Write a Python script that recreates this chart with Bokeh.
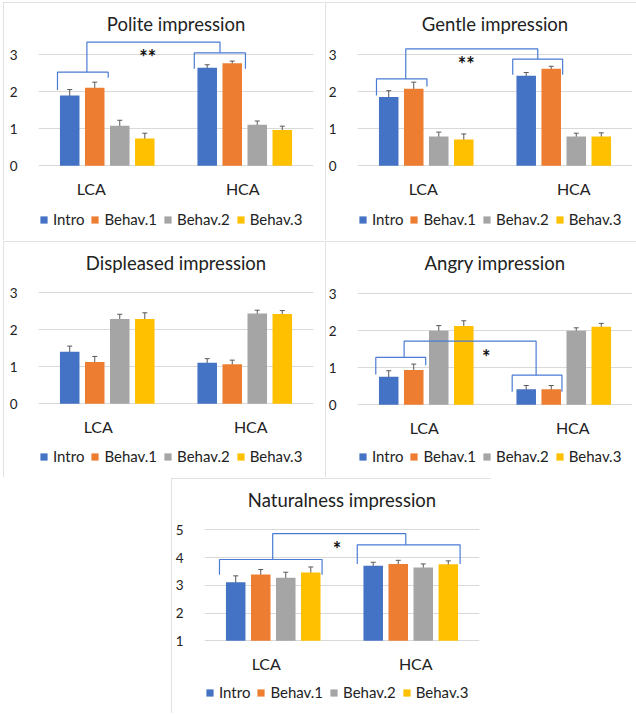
from bokeh.plotting import figure
from bokeh.models import (ColumnDataSource, Whisker, TeeHead, Legend, LegendItem,
                          FixedTicker, Spacer, LabelSet)
from bokeh.transform import dodge
from bokeh.layouts import column, row
from bokeh.core.properties import value
from bokeh.embed import file_html
from bokeh.resources import INLINE

# ---------------- data ----------------
categories = ["LCA", "HCA"]
series = ["Intro", "Behav.1", "Behav.2", "Behav.3"]
colors = ["#4472C4", "#ED7D31", "#A5A5A5", "#FFC000"]

# means[series][category], errs[series][category]
polite_means = [[1.90, 2.65], [2.11, 2.77], [1.08, 1.11], [0.74, 0.97]]
polite_errs = [[0.16, 0.08], [0.15, 0.06], [0.15, 0.10], [0.14, 0.10]]

gentle_means = [[1.86, 2.43], [2.08, 2.62], [0.79, 0.79], [0.71, 0.79]]
gentle_errs = [[0.17, 0.09], [0.18, 0.07], [0.12, 0.09], [0.15, 0.10]]

displeased_means = [[1.41, 1.11], [1.13, 1.07], [2.29, 2.44], [2.29, 2.43]]
displeased_errs = [[0.15, 0.11], [0.15, 0.11], [0.13, 0.09], [0.17, 0.09]]

angry_means = [[0.76, 0.42], [0.94, 0.42], [2.00, 2.00], [2.13, 2.11]]
angry_errs = [[0.16, 0.10], [0.16, 0.10], [0.14, 0.08], [0.14, 0.09]]

natural_means = [[3.11, 3.70], [3.39, 3.77], [3.27, 3.64], [3.46, 3.76]]
natural_errs = [[0.23, 0.13], [0.18, 0.13], [0.20, 0.13], [0.20, 0.12]]

ticks_3 = [0, 1, 2, 3]
ticks_5 = [1, 2, 3, 4, 5]

# significance brackets (data coordinates: x in category units 0..2)
polite_brackets = [
    ([0.138, 0.138, 0.507, 0.507], [2.05, 2.53, 2.53, 2.38]),
    ([0.352, 0.352, 1.320, 1.320], [2.53, 3.34, 3.34, 3.05]),
    ([1.133, 1.133, 1.505, 1.505], [2.62, 3.05, 3.05, 2.62]),
]
gentle_brackets = [
    ([0.138, 0.138, 0.505, 0.505], [1.90, 2.35, 2.35, 2.14]),
    ([0.351, 0.351, 1.311, 1.311], [2.35, 3.16, 3.16, 2.88]),
    ([1.129, 1.129, 1.492, 1.492], [2.46, 2.88, 2.88, 2.46]),
]
angry_brackets = [
    ([0.133, 0.133, 0.496, 0.496], [0.82, 1.28, 1.28, 1.07]),
    ([0.339, 0.339, 1.299, 1.299], [1.28, 1.72, 1.72, 0.80]),
    ([1.125, 1.125, 1.487, 1.487], [0.35, 0.80, 0.80, 0.35]),
]
natural_brackets = [
    ([0.109, 0.109, 0.855, 0.855], [3.38, 3.93, 3.93, 3.38]),
    ([0.496, 0.496, 1.464, 1.464], [3.93, 4.86, 4.86, 4.46]),
    ([1.111, 1.111, 1.859, 1.859], [3.77, 4.46, 4.46, 3.77]),
]

FONT = "Lato"
TXT = "#222222"
FRAME_W = 275
offsets = [-0.273, -0.091, 0.091, 0.273]
BAR_W = 0.142


def make_panel(title, means, errs, base, y_range, ticks, frame_h, left, right,
               label_shift=(0, 0), brackets=None, star=None, star_pos=None):
    p = figure(frame_width=FRAME_W, frame_height=frame_h,
               x_range=categories, y_range=y_range,
               output_backend="svg", toolbar_location=None,
               x_axis_location=None,
               min_border_left=left, min_border_right=right,
               min_border_top=36, min_border_bottom=5,
               title=title)
    p.outline_line_color = None
    p.background_fill_color = "white"
    p.border_fill_color = "white"
    p.styles = {"outline": "1px solid #D9D9D9", "outline-offset": "-1px"}

    p.title.align = "center"
    p.title.offset = -10
    p.title.standoff = 8
    p.title.text_font = FONT
    p.title.text_font_size = "18.5px"
    p.title.text_font_style = "normal"
    p.title.text_color = TXT

    p.xgrid.grid_line_color = None
    p.ygrid.grid_line_color = "#D9D9D9"
    p.ygrid.grid_line_width = 1
    p.yaxis.ticker = FixedTicker(ticks=ticks)
    p.yaxis.axis_line_color = None
    p.yaxis.major_tick_line_color = None
    p.yaxis.minor_tick_line_color = None
    p.yaxis.major_label_text_font = FONT
    p.yaxis.major_label_text_color = TXT
    p.yaxis.major_label_text_font_size = "13.5px"
    p.yaxis.major_label_standoff = 15

    renderers = []
    for i, name in enumerate(series):
        top = means[i]
        err = errs[i]
        src = ColumnDataSource(dict(
            x=categories, top=top,
            upper=[t + e for t, e in zip(top, err)],
            lower=[t - e for t, e in zip(top, err)],
        ))
        r = p.vbar(x=dodge("x", offsets[i], range=p.x_range), top="top",
                   bottom=base, width=BAR_W, source=src,
                   fill_color=colors[i], line_color=None)
        renderers.append(r)
        w = Whisker(source=src, base=dodge("x", offsets[i], range=p.x_range),
                    upper="upper", lower="lower", dimension="height",
                    line_color="#595959", line_width=1,
                    upper_head=TeeHead(size=5, line_color="#595959", line_width=1),
                    lower_head=TeeHead(size=5, line_color="#595959", line_width=1))
        p.add_layout(w)

    # category labels under each group
    cat_src = ColumnDataSource(dict(x=categories, y=[base] * len(categories),
                                    dx=list(label_shift)))
    p.add_layout(LabelSet(source=cat_src, x="x", y="y", text="x", x_offset="dx",
                          y_offset=-23, text_align="center", text_baseline="middle",
                          text_font=value(FONT), text_font_size=value("16px"),
                          text_color=TXT))

    if brackets:
        p.multi_line(xs=[b[0] for b in brackets], ys=[b[1] for b in brackets],
                     line_color="#4A7BD3", line_width=1.2)
    if star:
        p.text(x=[star_pos[0]], y=[star_pos[1]], text=[star], y_offset=5,
               text_font=value(FONT), text_font_size="20px", text_color="#111111",
               text_align="center", text_baseline="middle", text_font_style="bold")

    legend = Legend(items=[LegendItem(label=n, renderers=[r]) for n, r in zip(series, renderers)],
                    orientation="horizontal", location=(1, 7),
                    border_line_color=None, background_fill_alpha=0,
                    glyph_width=9, glyph_height=9, label_standoff=5, spacing=6,
                    label_height=16, padding=0, margin=0,
                    label_text_font=FONT, label_text_font_size="15px",
                    label_text_color=TXT)
    p.add_layout(legend)
    return p


p1 = make_panel("Polite impression", polite_means, polite_errs, 0, (-1.884, 3.44), ticks_3,
                197, 35, 11, (-16, -2), polite_brackets, "**", (0.794, 3.07))
p2 = make_panel("Gentle impression", gentle_means, gentle_errs, 0, (-1.884, 3.44), ticks_3,
                197, 31, 5, (-3, 10), gentle_brackets, "**", (0.79, 2.89))
p3 = make_panel("Displeased impression", displeased_means, displeased_errs, 0, (-1.857, 3.414),
                ticks_3, 195, 35, 11, (-9, 6))
p4 = make_panel("Angry impression", angry_means, angry_errs, 0, (-1.830, 3.44), ticks_3,
                195, 32, 4, (-2, 9), angry_brackets, "*", (0.936, 1.43))
p5 = make_panel("Naturalness impression", natural_means, natural_errs, 1, (-1.44, 5.551),
                ticks_5, 194, 33, 12, (-7, 5), natural_brackets, "*", (0.964, 4.50))

layout = column(
    Spacer(height=2),
    row(Spacer(width=3), p1, Spacer(width=1), p2),
    Spacer(height=1),
    row(Spacer(width=3), p3, Spacer(width=1), p4),
    Spacer(height=1),
    row(Spacer(width=171), p5),
)

open("out.html", "w").write(file_html(layout, INLINE))
